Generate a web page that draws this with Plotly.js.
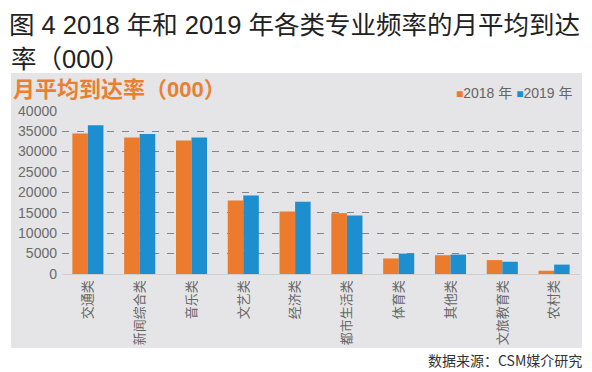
<!DOCTYPE html>
<html>
<head>
<meta charset="utf-8">
<script src="https://cdn.plot.ly/plotly-3.0.1.min.js"></script>
<style>html,body{margin:0;padding:0;background:#fff;}#chart{width:592px;height:372px;}</style>
</head>
<body>
<div id="chart"></div>
<script>
const categories = ["交通类","新闻综合类","音乐类","文艺类","经济类","都市生活类","体育类","其他类","文旅教育类","农村类"];
const values2018 = [34400, 33400, 32700, 18000, 15300, 14900, 3800, 4600, 3400, 800];
const values2019 = [36400, 34300, 33400, 19200, 17700, 14300, 5000, 4750, 3000, 2300];
const seriesNames = ["2018 年", "2019 年"];
const yTicks = [0, 5000, 10000, 15000, 20000, 25000, 30000, 35000, 40000];

const orange = "#ec7b2d";
const blue = "#1d8fd0";
const cjk = "'Noto Sans CJK SC', 'Liberation Sans', sans-serif";
const latin = "'Liberation Sans', 'Noto Sans CJK SC', sans-serif";

const traces = [
  {type: "bar", name: seriesNames[0], x: categories, y: values2018, marker: {color: orange}, hoverinfo: "none"},
  {type: "bar", name: seriesNames[1], x: categories, y: values2019, marker: {color: blue}, hoverinfo: "none"}
];

const L = 62, R = 12, T = 110, B = 98, W = 592, H = 372;
const pw = W - L - R, ph = H - T - B;
const px = v => (v - L) / pw;
const py = v => (H - B - v) / ph;

const layout = {
  width: W, height: H,
  margin: {l: L, r: R, t: T, b: B, pad: 0},
  paper_bgcolor: "#ffffff",
  plot_bgcolor: "rgba(0,0,0,0)",
  showlegend: false,
  barmode: "group",
  bargap: 0.4,
  bargroupgap: 0,
  title: {
    text: "图 4 2018 年和 2019 年各类专业频率的月平均到达",
    font: {family: latin, size: 25.5, color: "#222"},
    x: 9 / W, xanchor: "left", xref: "container",
    y: 1 - 25 / H, yanchor: "middle", yref: "container"
  },
  xaxis: {
    type: "category",
    tickangle: -90,
    tickfont: {family: cjk, size: 13, color: "#666"},
    showline: true, linecolor: "#cfcfcf", linewidth: 1,
    ticks: "", showgrid: false, fixedrange: true
  },
  yaxis: {
    range: [0, 40150],
    tickvals: yTicks,
    ticktext: yTicks.map(String),
    tickfont: {family: latin, size: 14, color: "#6b6b6b"},
    ticklabelstandoff: 4,
    showgrid: true, gridcolor: "#858585", gridwidth: 1, griddash: "7px,8px",
    zeroline: false, showline: false, ticks: "", fixedrange: true
  },
  shapes: [
    {type: "rect", xref: "paper", yref: "paper", layer: "below",
     x0: px(11), x1: px(582), y0: py(348), y1: py(73),
     fillcolor: "#e5e5e7", line: {width: 0}}
  ],
  annotations: [
    {text: "率（000）", xref: "paper", yref: "paper",
     x: px(9), y: py(58.5), xanchor: "left", yanchor: "middle", showarrow: false,
     font: {family: latin, size: 25.5, color: "#222"}},
    {text: "<b>月平均到达率（000）</b>", xref: "paper", yref: "paper",
     x: px(11), y: py(89.5), xanchor: "left", yanchor: "middle", showarrow: false,
     font: {family: latin, size: 22, color: "#ea7f32"}},
    {text: "<span style='color:" + orange + ";font-size:12px'>■</span>" + seriesNames[0] + " <span style='color:" + blue + ";font-size:12px'>■</span>" + seriesNames[1],
     xref: "paper", yref: "paper", x: px(574), y: py(93), xanchor: "right", yanchor: "middle",
     showarrow: false, font: {family: latin, size: 14, color: "#666"}},
    {text: "数据来源：CSM媒介研究", xref: "paper", yref: "paper",
     x: px(584), y: py(360), xanchor: "right", yanchor: "middle", showarrow: false,
     font: {family: cjk, size: 14, color: "#333"}}
  ]
};

Plotly.newPlot("chart", traces, layout, {displayModeBar: false, staticPlot: true});
</script>
</body>
</html>
